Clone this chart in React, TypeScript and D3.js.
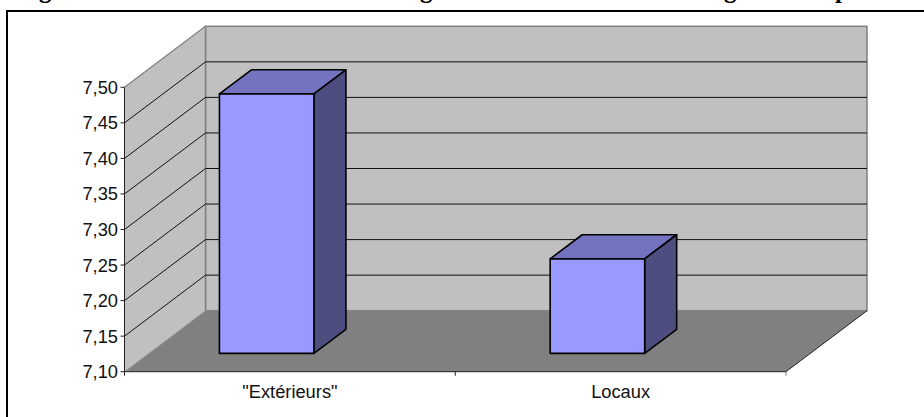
import React from "react";
import * as d3 from "d3";

const categories = ['"Extérieurs"', "Locaux"];
const values = [7.465, 7.233];
const yTicks = [7.1, 7.15, 7.2, 7.25, 7.3, 7.35, 7.4, 7.45, 7.5];
const titleFragments = [
  { text: "g", x: 39 },
  { text: "g", x: 420 },
  { text: "g", x: 724 },
  { text: "p", x: 835 },
];

const W = 924;
const H = 417;
const FONT = "'Liberation Sans', Arial, sans-serif";
const DEPTH = { dx: 81, dy: -61 };
const BAR_DEPTH = { start: 0.3, end: 0.695 };

const x = d3.scaleBand<string>().domain(categories).range([124.5, 786]);
const y = d3.scaleLinear().domain([7.1, 7.5]).range([371.7, 87.3]);
const fmt = (v: number) => d3.format(".2f")(v).replace(".", ",");
const poly = d3.line<[number, number]>();

export default function App() {
  const x0 = x.range()[0];
  const x1 = x.range()[1];
  const yBase = y(7.1);
  const yTop = y(7.5);
  const bx0 = x0 + DEPTH.dx;
  const bx1 = x1 + DEPTH.dx;
  const by0 = yBase + DEPTH.dy;
  const byTop = yTop + DEPTH.dy;
  const bw = x.bandwidth();

  return (
    <svg
      width={W}
      height={H}
      viewBox={`0 0 ${W} ${H}`}
      style={{ position: "absolute", left: 0, top: 0, display: "block", background: "#fff" }}
    >
      {titleFragments.map((t, i) => (
        <text key={i} x={t.x} y={-2} fontFamily="'Liberation Serif', serif" fontWeight="bold" fontSize={25} fill="#000">
          {t.text}
        </text>
      ))}

      <path d="M7,417V11H924" fill="none" stroke="#000" strokeWidth={2} />

      {/* back wall */}
      <rect x={bx0} y={byTop} width={bx1 - bx0} height={by0 - byTop} fill="#c0c0c0" stroke="#808080" strokeWidth={1.5} />
      {/* side wall */}
      <path
        d={poly([[x0, yTop], [bx0, byTop], [bx0, by0], [x0, yBase]])! + "Z"}
        fill="#c0c0c0"
      />
      <path d={poly([[x0, yTop], [bx0, byTop]])!} stroke="#808080" strokeWidth={1.2} fill="none" />
      <path d={`M${bx0},${byTop}V${by0}`} stroke="#808080" strokeWidth={1.5} fill="none" />
      {/* floor */}
      <path
        d={poly([[x0, yBase], [bx0, by0], [bx1, by0], [x1, yBase]])! + "Z"}
        fill="#808080"
      />
      <path d={poly([[x1, yBase], [bx1, by0]])!} stroke="#222" strokeWidth={1} fill="none" />
      <path d={poly([[x0, yBase], [bx0, by0]])!} stroke="#999" strokeWidth={1} fill="none" />

      {/* gridlines */}
      {yTicks.slice(1, -1).map((t) => (
        <g key={t} stroke="#111" strokeWidth={1} fill="none">
          <path d={poly([[x0, y(t)], [bx0, y(t) + DEPTH.dy]])!} />
          <path d={`M${bx0},${y(t) + DEPTH.dy}H${bx1}`} />
        </g>
      ))}

      {/* bars */}
      {categories.map((c, i) => {
        const l = x(c)! + 0.287 * bw;
        const r = l + 0.2857 * bw;
        const fy0 = y(7.1) + BAR_DEPTH.start * DEPTH.dy;
        const fy1 = y(values[i]) + BAR_DEPTH.start * DEPTH.dy;
        const d = BAR_DEPTH.end - BAR_DEPTH.start;
        const ox = d * DEPTH.dx;
        const oy = d * DEPTH.dy;
        return (
          <g key={c} stroke="#000" strokeWidth={1.6} strokeLinejoin="round">
            <path d={poly([[l, fy1], [l + ox, fy1 + oy], [r + ox, fy1 + oy], [r, fy1]])! + "Z"} fill="#7373bf" />
            <path d={poly([[r, fy1], [r + ox, fy1 + oy], [r + ox, fy0 + oy], [r, fy0]])! + "Z"} fill="#4d4d80" />
            <rect x={l} y={fy1} width={r - l} height={fy0 - fy1} fill="#9999ff" />
          </g>
        );
      })}

      {/* axes */}
      <path d={`M${x0},${yTop}V${yBase}H${x1}`} fill="none" stroke="#222" strokeWidth={1} />
      {yTicks.map((t) => (
        <g key={t}>
          <path d={`M${x0 - 4},${y(t)}H${x0}`} stroke="#222" strokeWidth={1} />
          <text x={118} y={y(t) + 6.5} textAnchor="end" fontFamily={FONT} fontSize={18.3} fill="#111">
            {fmt(t)}
          </text>
        </g>
      ))}
      {[x0, x1 - bw, x1].map((p, i) => (
        <path key={i} d={`M${p},${yBase}V${yBase + 4}`} stroke={i === 2 ? "#777" : "#222"} strokeWidth={1} />
      ))}
      {categories.map((c) => (
        <text key={c} x={x(c)! + bw / 2} y={398} textAnchor="middle" fontFamily={FONT} fontSize={18.3} fill="#111">
          {c}
        </text>
      ))}
    </svg>
  );
}
